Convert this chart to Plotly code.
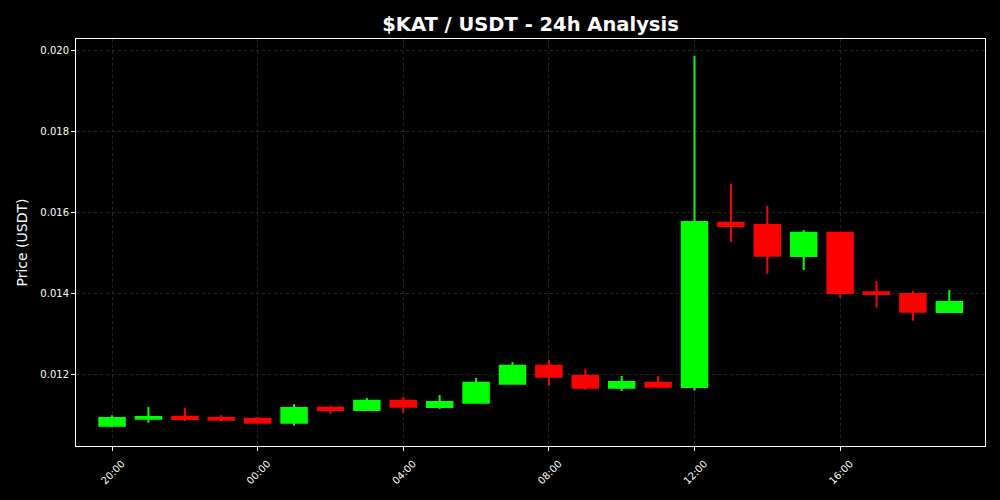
import plotly.graph_objects as go

times = ["2024-01-01 20:00", "2024-01-01 21:00", "2024-01-01 22:00", "2024-01-01 23:00",
         "2024-01-02 00:00", "2024-01-02 01:00", "2024-01-02 02:00", "2024-01-02 03:00",
         "2024-01-02 04:00", "2024-01-02 05:00", "2024-01-02 06:00", "2024-01-02 07:00",
         "2024-01-02 08:00", "2024-01-02 09:00", "2024-01-02 10:00", "2024-01-02 11:00",
         "2024-01-02 12:00", "2024-01-02 13:00", "2024-01-02 14:00", "2024-01-02 15:00",
         "2024-01-02 16:00", "2024-01-02 17:00", "2024-01-02 18:00", "2024-01-02 19:00"]

opens = [0.010752, 0.010924, 0.010974, 0.010942, 0.010924, 0.010826, 0.011195, 0.011138,
         0.011367, 0.011212, 0.011318, 0.011786, 0.012229, 0.011975, 0.011687, 0.011810,
         0.011705, 0.015749, 0.015692, 0.014929, 0.015503, 0.014036, 0.013994, 0.013551]
highs = [0.011008, 0.011212, 0.011188, 0.011008, 0.010966, 0.011286, 0.011244, 0.011434,
         0.011458, 0.011508, 0.011926, 0.012320, 0.012369, 0.012140, 0.011975, 0.011975,
         0.019860, 0.016702, 0.016167, 0.015569, 0.015520, 0.014314, 0.014068, 0.014092]
lows = [0.010713, 0.010826, 0.010868, 0.010868, 0.010801, 0.010752, 0.011047, 0.011114,
        0.011072, 0.011163, 0.011300, 0.011761, 0.011737, 0.011638, 0.011606, 0.011687,
        0.011614, 0.015281, 0.014494, 0.014585, 0.013903, 0.013657, 0.013337, 0.013540]
closes = [0.010942, 0.010966, 0.010917, 0.010900, 0.010826, 0.011188, 0.011138, 0.011367,
          0.011220, 0.011335, 0.011810, 0.012229, 0.011958, 0.011687, 0.011828, 0.011712,
          0.015766, 0.015668, 0.014937, 0.015503, 0.014018, 0.013994, 0.013558, 0.013797]

tick_vals = ["2024-01-01 20:00", "2024-01-02 00:00", "2024-01-02 04:00",
             "2024-01-02 08:00", "2024-01-02 12:00", "2024-01-02 16:00"]
tick_text = ["20:00", "00:00", "04:00", "08:00", "12:00", "16:00"]
y_ticks = [0.012, 0.014, 0.016, 0.018, 0.020]

fig = go.Figure(go.Candlestick(
    x=times, open=opens, high=highs, low=lows, close=closes,
    increasing=dict(line=dict(color="#00ff00", width=2), fillcolor="#00ff00"),
    decreasing=dict(line=dict(color="#ff0000", width=2), fillcolor="#ff0000"),
    whiskerwidth=0, showlegend=False, hoverinfo="skip",
))

grid = "#262626"
fig.update_layout(
    width=1000, height=500,
    paper_bgcolor="black", plot_bgcolor="black",
    margin=dict(l=76, r=15, t=39, b=54),
    font=dict(family="DejaVu Sans", color="white", size=10),
    title=dict(text="<b>$KAT / USDT - 24h Analysis</b>", x=0.5305, xanchor="center",
               y=0.952, yanchor="middle", font=dict(size=19.5, color="white")),
    boxgap=0.3, boxgroupgap=0,
    xaxis=dict(
        type="date", range=["2024-01-01 19:00:36", "2024-01-02 19:58:48"],
        tickvals=tick_vals, ticktext=tick_text, tickangle=-45,
        ticklabelshift=10, ticklabelstandoff=3,
        rangeslider=dict(visible=False),
        showline=True, mirror=True, linecolor="white", linewidth=1,
        ticks="outside", ticklen=4, tickcolor="white",
        showgrid=True, gridcolor=grid, griddash="dot", gridwidth=1,
        zeroline=False, tickfont=dict(size=10, color="white"),
    ),
    yaxis=dict(
        range=[0.010252, 0.020271], tickvals=y_ticks, tickformat=".3f",
        title=dict(text="Price (USDT)", font=dict(size=14, color="white"), standoff=9),
        showline=True, mirror=True, linecolor="white", linewidth=1,
        ticks="outside", ticklen=4, tickcolor="white",
        showgrid=True, gridcolor=grid, griddash="dot", gridwidth=1,
        zeroline=False, tickfont=dict(size=10, color="white"),
    ),
)

fig.write_html("out.html", config={"displayModeBar": False},
               post_script="document.body.style.margin='0';")
